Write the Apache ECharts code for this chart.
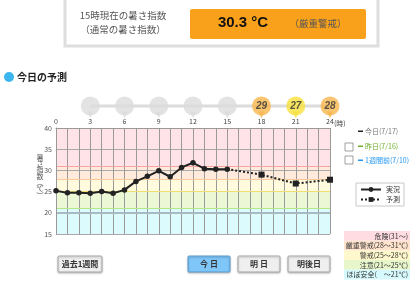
<!DOCTYPE html>
<html><head><meta charset="utf-8">
<script src="https://cdn.jsdelivr.net/npm/echarts@6/dist/echarts.min.js"></script>
<style>html,body{margin:0;padding:0;background:#fff}#c{width:420px;height:284px}</style>
</head><body><div id="c"></div>
<script>
const FONT = '"Noto Sans CJK JP", "Noto Sans", sans-serif';
// data
const hours = [0,1,2,3,4,5,6,7,8,9,10,11,12,13,14,15];
const actual = [25.2,24.7,24.7,24.6,25.0,24.6,25.4,27.4,28.6,29.9,28.5,30.7,31.8,30.4,30.3,30.3];
const forecastHours = [15,18,21,24];
const forecast = [30.3,29.0,26.9,27.8];
const pinHours = [3,6,9,12,15,18,21,24];
const pinValues = [null,null,null,null,null,29,27,28];
const pinColors = ['#dcdcdc','#dcdcdc','#dcdcdc','#dcdcdc','#dcdcdc','#f8b74e','#f7e03c','#f8b74e'];
const bandRanges = [[31,40],[28,31],[25,28],[21,25],[15,21]];
const bandColors = ['#ffe3e8','#ffeadb','#fffbdc','#ecf7d6','#dcfbfd'];
const boundaryLines = [31,28,25,21,20];
const boundaryColors = ['#f4a3a3','#f8c99a','#f1de70','#b9e684','#a9b9c2'];
const legendLabels = ['危険(31〜)','厳重警戒(28〜31℃)','警戒(25〜28℃)','注意(21〜25℃)','ほぼ安全(　〜21℃)'];
const legendBg = ['#ffdbe2','#ffe3cc','#fff8cc','#e8f6cc','#d6f9fd'];

const chart = echarts.init(document.getElementById('c'), null, {renderer:'canvas'});

const graphics = [];
// header box
graphics.push({type:'rect', shape:{x:65,y:-4,width:313,height:50}, style:{fill:'#fff', stroke:'#dedede', lineWidth:3}});
graphics.push({type:'rect', shape:{x:190,y:9,width:176,height:30,r:2}, style:{fill:'#f9a11b'}});
graphics.push({type:'text', x:123, y:15, style:{text:'15時現在の暑さ指数', font:'9.5px '+FONT, fill:'#555', align:'center', verticalAlign:'middle'}});
graphics.push({type:'text', x:123, y:29, style:{text:'（通常の暑さ指数）', font:'9.5px '+FONT, fill:'#555', align:'center', verticalAlign:'middle'}});
graphics.push({type:'text', x:243, y:23, style:{text:'30.3 °C', font:'bold 15px "Liberation Sans", Arial, sans-serif', fill:'#111', align:'center', verticalAlign:'middle'}});
graphics.push({type:'text', x:318, y:23, style:{text:'（厳重警戒）', font:'9.5px '+FONT, fill:'#555', align:'center', verticalAlign:'middle'}});
// title
graphics.push({type:'circle', shape:{cx:9,cy:77,r:5}, style:{fill:'#3cb6ef'}});
graphics.push({type:'text', x:17, y:77, style:{text:'今日の予測', font:'bold 10px '+FONT, fill:'#222', verticalAlign:'middle'}});
// (時)
graphics.push({type:'text', x:334, y:123, style:{text:'(時)', font:'7px '+FONT, fill:'#444', verticalAlign:'middle'}});
// y axis name
graphics.push({type:'text', x:40, y:176, style:{text:'暑\nさ\n指\n数\n︵\n℃\n︶', font:'7px '+FONT, lineHeight:6.3, fill:'#555', align:'center', verticalAlign:'middle'}});
// series toggles
graphics.push({type:'rect', shape:{x:358,y:130.5,width:5,height:1.5}, style:{fill:'#222'}});
graphics.push({type:'text', x:365, y:131, style:{text:'今日(7/17)', font:'7px '+FONT, fill:'#777', verticalAlign:'middle'}});
graphics.push({type:'rect', shape:{x:345,y:143,width:8,height:8}, style:{fill:'#fff', stroke:'#888', lineWidth:0.8}});
graphics.push({type:'rect', shape:{x:358,y:145.5,width:5,height:1.5}, style:{fill:'#6fae2c'}});
graphics.push({type:'text', x:365, y:146, style:{text:'昨日(7/16)', font:'7px '+FONT, fill:'#6fae2c', verticalAlign:'middle'}});
graphics.push({type:'rect', shape:{x:345,y:156,width:8,height:8}, style:{fill:'#fff', stroke:'#888', lineWidth:0.8}});
graphics.push({type:'rect', shape:{x:358,y:159.5,width:5,height:1.5}, style:{fill:'#2196f3'}});
graphics.push({type:'text', x:365, y:160, style:{text:'1週間前(7/10)', font:'7px '+FONT, fill:'#2196f3', verticalAlign:'middle'}});
// band legend
legendLabels.forEach((t,i)=>{
  graphics.push({type:'rect', shape:{x:344,y:231+i*9.7,width:66,height:9.7}, style:{fill:legendBg[i]}});
  graphics.push({type:'text', x:408, y:236+i*9.7, style:{text:t, font:'7px '+FONT, fill:'#333', align:'right', verticalAlign:'middle'}});
});
// buttons
const buttons = [['過去1週間',58,44,false],['今 日',188,42,true],['明 日',238,42,false],['明後日',288,42,false]];
buttons.forEach(b=>{
  graphics.push({type:'rect', shape:{x:b[1],y:256,width:b[2],height:16,r:1}, style:{fill:b[3]?'#7fc6f9':'#efefef', stroke:b[3]?'#5b9ccc':'#a9a9a9', lineWidth:1, shadowBlur:2, shadowColor:'rgba(0,0,0,0.25)', shadowOffsetY:1}});
  graphics.push({type:'text', x:b[1]+b[2]/2, y:264, style:{text:b[0], font:'bold 8px '+FONT, fill:'#333', align:'center', verticalAlign:'middle'}});
});

const option = {
  animation:false,
  textStyle:{fontFamily:FONT},
  legend:{
    data:['実況','予測'], left:356, top:183, orient:'vertical',
    itemWidth:20, itemHeight:6, itemGap:3, padding:[3,4,3,4],
    borderColor:'#c8c8c8', borderWidth:1,
    textStyle:{fontSize:7, color:'#333', fontFamily:FONT}
  },
  grid:[
    {left:56, top:128, width:274, height:106},
    {left:56, top:96, width:274, height:20}
  ],
  xAxis:[
    {type:'value', gridIndex:0, min:0, max:24, interval:1, position:'top', z:2,
     axisLine:{show:true, lineStyle:{color:'#999'}}, axisTick:{show:false},
     axisLabel:{fontSize:7, color:'#444', margin:3, formatter:v=> v%3===0 ? String(v) : ''},
     splitLine:{show:true, lineStyle:{color:'#9a9a9a', width:1}}},
    {type:'value', gridIndex:1, min:0, max:24, show:false}
  ],
  yAxis:[
    {type:'value', gridIndex:0, min:15, max:40, interval:5, z:2,
     axisLine:{show:true, lineStyle:{color:'#999'}}, axisTick:{show:false},
     axisLabel:{fontSize:7, color:'#555', margin:4},
     splitLine:{show:true, lineStyle:{color:'#a8a8a8', width:1}}},
    {type:'value', gridIndex:1, min:0, max:1, show:false}
  ],
  series:[
    {type:'line', name:'bands', xAxisIndex:0, yAxisIndex:0, data:[], silent:true, z:1,
     markArea:{silent:true, z:1, data: bandRanges.map((r,i)=>[{yAxis:r[0], itemStyle:{color:bandColors[i]}},{yAxis:r[1]}])},
     markLine:{silent:true, z:2, symbol:'none', label:{show:false},
       data: boundaryLines.map((v,i)=>({yAxis:v, lineStyle:{color:boundaryColors[i], width: v===20?2:1.2, type:'solid'}}))}
    },
    {type:'line', name:'実況', xAxisIndex:0, yAxisIndex:0, z:5,
     data: hours.map((h,i)=>[h, actual[i]]),
     symbol:'circle', symbolSize:5.5, showSymbol:true,
     lineStyle:{color:'#222', width:2}, itemStyle:{color:'#222'}},
    {type:'line', name:'予測', xAxisIndex:0, yAxisIndex:0, z:5,
     data: forecastHours.map((h,i)=>({value:[h, forecast[i]], symbol: i===0?'none':'rect'})),
     symbol:'rect', symbolSize:6, showSymbol:true,
     lineStyle:{color:'#222', width:2, type:'dotted'}, itemStyle:{color:'#222'}},
    {type:'line', name:'pinline', xAxisIndex:1, yAxisIndex:1, silent:true, z:2,
     data: pinHours.map(h=>[h,0.5]), symbol:'none', lineStyle:{color:'#dcdcdc', width:3}},
    {type:'scatter', name:'pintail', xAxisIndex:1, yAxisIndex:1, silent:true, z:3,
     data: pinHours.map((h,i)=>({value:[h,0.5], itemStyle:{color:pinColors[i]}})),
     symbol:'triangle', symbolSize:[6,7], symbolRotate:180, symbolOffset:[0,9]},
    {type:'scatter', name:'pins', xAxisIndex:1, yAxisIndex:1, silent:true, z:4,
     data: pinHours.map((h,i)=>({value:[h,0.5], itemStyle:{color:pinColors[i]}})),
     symbol:'circle', symbolSize:19,
     label:{show:true, position:'inside', fontSize:10, fontStyle:'italic', fontWeight:'bold', color:'#333', fontFamily:'"Liberation Sans", Arial, sans-serif',
       formatter:p=> pinValues[p.dataIndex]==null ? '' : String(pinValues[p.dataIndex])}}
  ],
  graphic: graphics
};
chart.setOption(option);
</script></body></html>
